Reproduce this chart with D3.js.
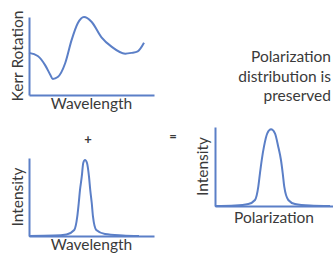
<!DOCTYPE html>
<html><head><meta charset="utf-8">
<script src="https://cdn.jsdelivr.net/npm/d3@7"></script>
<style>html,body{margin:0;padding:0;background:#fff;}svg{display:block;}</style>
</head><body>
<script>
// ---- data ----
const kerrX = [0, 7, 13, 17, 19, 23, 29, 34, 39, 44, 50, 58, 66, 77, 82, 87, 92];
const kerrY = [54, 50, 38, 26, 20.5, 23, 41, 70, 92, 100, 94, 74, 62, 53, 54, 56, 67];

const specX = [0, 20, 30, 36.2, 38.6, 39.8, 40.8, 42.2, 43.4, 44.8, 46.4, 48, 49, 50.2, 51.2, 53.8, 60.8, 75, 88];
const specY = [0, 0.5, 2, 7.7, 24.7, 42.3, 59, 76, 93.6, 97.4, 93.6, 76, 59, 42.3, 24.7, 7.7, 2.6, 0.8, 0];

const polX = [0, 17, 28.2, 33.9, 36.7, 38.1, 39.6, 41.5, 44.3, 47.5, 50.8, 53.6, 55.9, 57.4, 58.7, 62.1, 67.8, 80.5, 97.5];
const polY = [0, 0.6, 2.5, 7.6, 24.4, 41.4, 58.2, 75.1, 92, 97.1, 92, 75.1, 58.2, 41.4, 24.4, 7.6, 2.5, 0.6, 0];

const axisTitles = ["Kerr Rotation", "Wavelength", "Intensity", "Wavelength", "Intensity", "Polarization"];
const noteLines = ["Polarization", "distribution is", "preserved"];
const operators = ["+", "="];

// ---- drawing ----
const W = 333, H = 256;
const blue = "#5b7fc7", textCol = "#3a3a3a", font = "Lato, 'Open Sans', sans-serif";
const fs = "15.5px";
const svg = d3.select("body").append("svg").attr("width", W).attr("height", H);

function panel(xRange, yRange, xs, ys, yTitle, xTitle, yTitleX, xTitleY) {
  const x = d3.scaleLinear().domain([0, 100]).range(xRange);
  const y = d3.scaleLinear().domain([0, 100]).range(yRange);
  const g = svg.append("g");
  g.append("g").attr("transform", `translate(0,${yRange[0]})`)
    .call(d3.axisBottom(x).ticks(0).tickSizeOuter(0));
  g.append("g").attr("transform", `translate(${xRange[0]},0)`)
    .call(d3.axisLeft(y).ticks(0).tickSizeOuter(0));
  g.selectAll(".domain").attr("stroke", blue).attr("stroke-width", 2);
  const pts = xs.map((v, i) => [v, ys[i]]);
  g.append("path").datum(pts)
    .attr("fill", "none").attr("stroke", blue).attr("stroke-width", 2)
    .attr("d", d3.line().x(d => x(d[0])).y(d => y(d[1])).curve(d3.curveMonotoneX));
  g.append("text").text(yTitle)
    .attr("transform", `translate(${yTitleX},${(yRange[0] + yRange[1]) / 2}) rotate(-90)`)
    .attr("text-anchor", "middle").attr("fill", textCol)
    .style("font-family", font).style("font-size", fs);
  g.append("text").text(xTitle)
    .attr("x", (xRange[0] + xRange[1]) / 2).attr("y", xTitleY)
    .attr("text-anchor", "middle").attr("fill", textCol)
    .style("font-family", font).style("font-size", fs);
}

panel([29, 154], [95, 17], kerrX, kerrY, axisTitles[0], axisTitles[1], 23, 109);
panel([29, 154], [236, 158], specX, specY, axisTitles[2], axisTitles[3], 23, 250);
panel([215, 333], [206, 127], polX, polY, axisTitles[4], axisTitles[5], 208, 223);

svg.append("g").selectAll("text").data(noteLines).join("text")
  .text(d => d).attr("x", 331).attr("y", (d, i) => 62 + i * 19.5)
  .attr("text-anchor", "end").attr("fill", textCol)
  .style("font-family", font).style("font-size", fs);

svg.append("text").text(operators[0]).attr("x", 88).attr("y", 144)
  .attr("text-anchor", "middle").attr("fill", textCol)
  .style("font-family", font).style("font-size", "13px").style("font-weight", "bold");
svg.append("text").text(operators[1]).attr("x", 173).attr("y", 141)
  .attr("text-anchor", "middle").attr("fill", textCol)
  .style("font-family", font).style("font-size", "13px").style("font-weight", "bold");
</script>
</body></html>
